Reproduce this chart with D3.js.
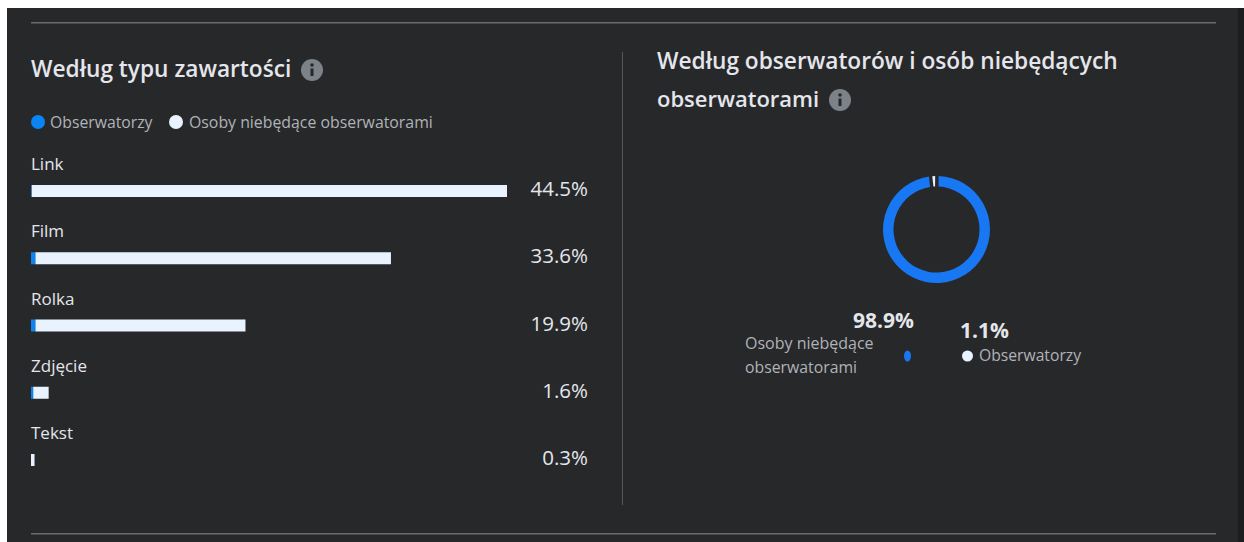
<!DOCTYPE html>
<html>
<head>
<meta charset="utf-8">
<script src="https://cdn.jsdelivr.net/npm/d3@7"></script>
<style>
  html, body { margin: 0; padding: 0; background: #fff; overflow: hidden; }
  text { font-family: "Open Sans", "Noto Sans", sans-serif; }
</style>
</head>
<body>
<svg id="chart"></svg>
<script>
// Chart values
const categories = ["Link", "Film", "Rolka", "Zdjęcie", "Tekst"];
const followers = [0.05, 0.4, 0.4, 0.2, 0];
const nonFollowers = [44.45, 33.25, 19.65, 1.45, 0.33];
const totalLabels = ["44.5%", "33.6%", "19.9%", "1.6%", "0.3%"];
const seriesNames = ["Obserwatorzy", "Osoby niebędące obserwatorami"];
const donutValues = [1.1, 98.9];

const width = 1244;
const height = 542;
const bg = "#27282a";
const blue = "#0a84f5";
const donutBlue = "#1877f2";
const white = "#e9f3ff";
const textMain = "#e4e6eb";
const textSoft = "#b0b3b8";

const svg = d3.select("#chart")
    .attr("width", width)
    .attr("height", height)
    .style("display", "block");

// Panel and separators
svg.append("rect").attr("x", 7).attr("y", 8).attr("width", width - 7).attr("height", height - 8).attr("fill", bg);
svg.append("rect").attr("x", 1238).attr("y", 8).attr("width", 6).attr("height", height - 8).attr("fill", "#1c1d1f");
svg.append("rect").attr("x", 31).attr("y", 22).attr("width", 1185).attr("height", 1.5).attr("fill", "#6a6b6e");
svg.append("rect").attr("x", 31).attr("y", 533).attr("width", 1185).attr("height", 1.5).attr("fill", "#6a6b6e");
svg.append("rect").attr("x", 622).attr("y", 52).attr("width", 1).attr("height", 453).attr("fill", "#55575a");

function infoIcon(cx, cy) {
    const g = svg.append("g");
    g.append("circle").attr("cx", cx).attr("cy", cy).attr("r", 11).attr("fill", "#7d8188");
    g.append("circle").attr("cx", cx).attr("cy", cy - 5).attr("r", 1.8).attr("fill", bg);
    g.append("rect").attr("x", cx - 1.5).attr("y", cy - 1.5).attr("width", 3).attr("height", 7.5).attr("fill", bg);
}

function label(x, y, str, size, fill, weight, anchor) {
    return svg.append("text")
        .attr("x", x).attr("y", y)
        .attr("font-size", size)
        .attr("font-weight", weight || 400)
        .attr("fill", fill)
        .attr("text-anchor", anchor || "start")
        .text(str);
}

// Left panel header and legend
label(31, 77, "Według typu zawartości", 22.7, textMain, 600);
infoIcon(312, 70);

svg.append("circle").attr("cx", 38).attr("cy", 122).attr("r", 7).attr("fill", blue);
label(50, 128, seriesNames[0], 15.75, textSoft);
svg.append("circle").attr("cx", 176).attr("cy", 122).attr("r", 7).attr("fill", white);
label(189, 128, seriesNames[1], 15.85, textSoft);

// Stacked bars
const xScale = d3.scaleLinear().domain([0, 44.5]).range([31, 507]);
const yScale = d3.scaleBand().domain(categories).range([157, 493.25]).paddingInner(0);

const rows = svg.selectAll(".row")
    .data(categories)
    .enter()
    .append("g")
    .attr("class", "row")
    .attr("transform", c => `translate(0, ${yScale(c)})`);

rows.append("text")
    .attr("x", 31).attr("y", 13)
    .attr("font-size", 17)
    .attr("fill", textMain)
    .text(c => c);

rows.append("rect")
    .attr("class", "bar-non")
    .attr("x", (c, i) => xScale(followers[i]))
    .attr("y", 28)
    .attr("width", (c, i) => xScale(nonFollowers[i]) - xScale(0))
    .attr("height", 12)
    .attr("fill", white);

rows.append("rect")
    .attr("class", "bar-fol")
    .attr("x", xScale(0))
    .attr("y", 28)
    .attr("width", (c, i) => xScale(followers[i]) - xScale(0))
    .attr("height", 12)
    .attr("fill", blue);

rows.append("text")
    .attr("x", 588).attr("y", 39)
    .attr("text-anchor", "end")
    .attr("font-size", 20.5)
    .attr("font-weight", 500)
    .attr("fill", textMain)
    .text((c, i) => totalLabels[i]);

// Right panel header
label(657, 69, "Według obserwatorów i osób niebędących", 22.7, textMain, 600);
label(657, 107, "obserwatorami", 22, textMain, 600);
infoIcon(840, 100);

// Donut, starts with the small white slice at the top
const pie = d3.pie().sort(null).padAngle(0.05).startAngle(-0.111).endAngle(2 * Math.PI - 0.111);
const arc = d3.arc().innerRadius(43).outerRadius(53.5);
const donut = svg.append("g").attr("transform", "translate(936.5, 229.5)");
donut.selectAll("path")
    .data(pie(donutValues))
    .enter()
    .append("path")
    .attr("d", arc)
    .attr("fill", (d, i) => i === 0 ? white : donutBlue);

// Donut legend
label(914, 328, "98.9%", 21, textMain, 700, "end");
label(745, 349, "Osoby niebędące", 16, textSoft);
label(745, 373, "obserwatorami", 15.8, textSoft);
svg.append("ellipse").attr("cx", 907.5).attr("cy", 356).attr("rx", 3.5).attr("ry", 5.5).attr("fill", donutBlue);

label(960, 338, "1.1%", 21, textMain, 700);
svg.append("circle").attr("cx", 967.5).attr("cy", 356).attr("r", 5.5).attr("fill", white);
label(979, 361, seriesNames[0], 15.7, textSoft);
</script>
</body>
</html>
